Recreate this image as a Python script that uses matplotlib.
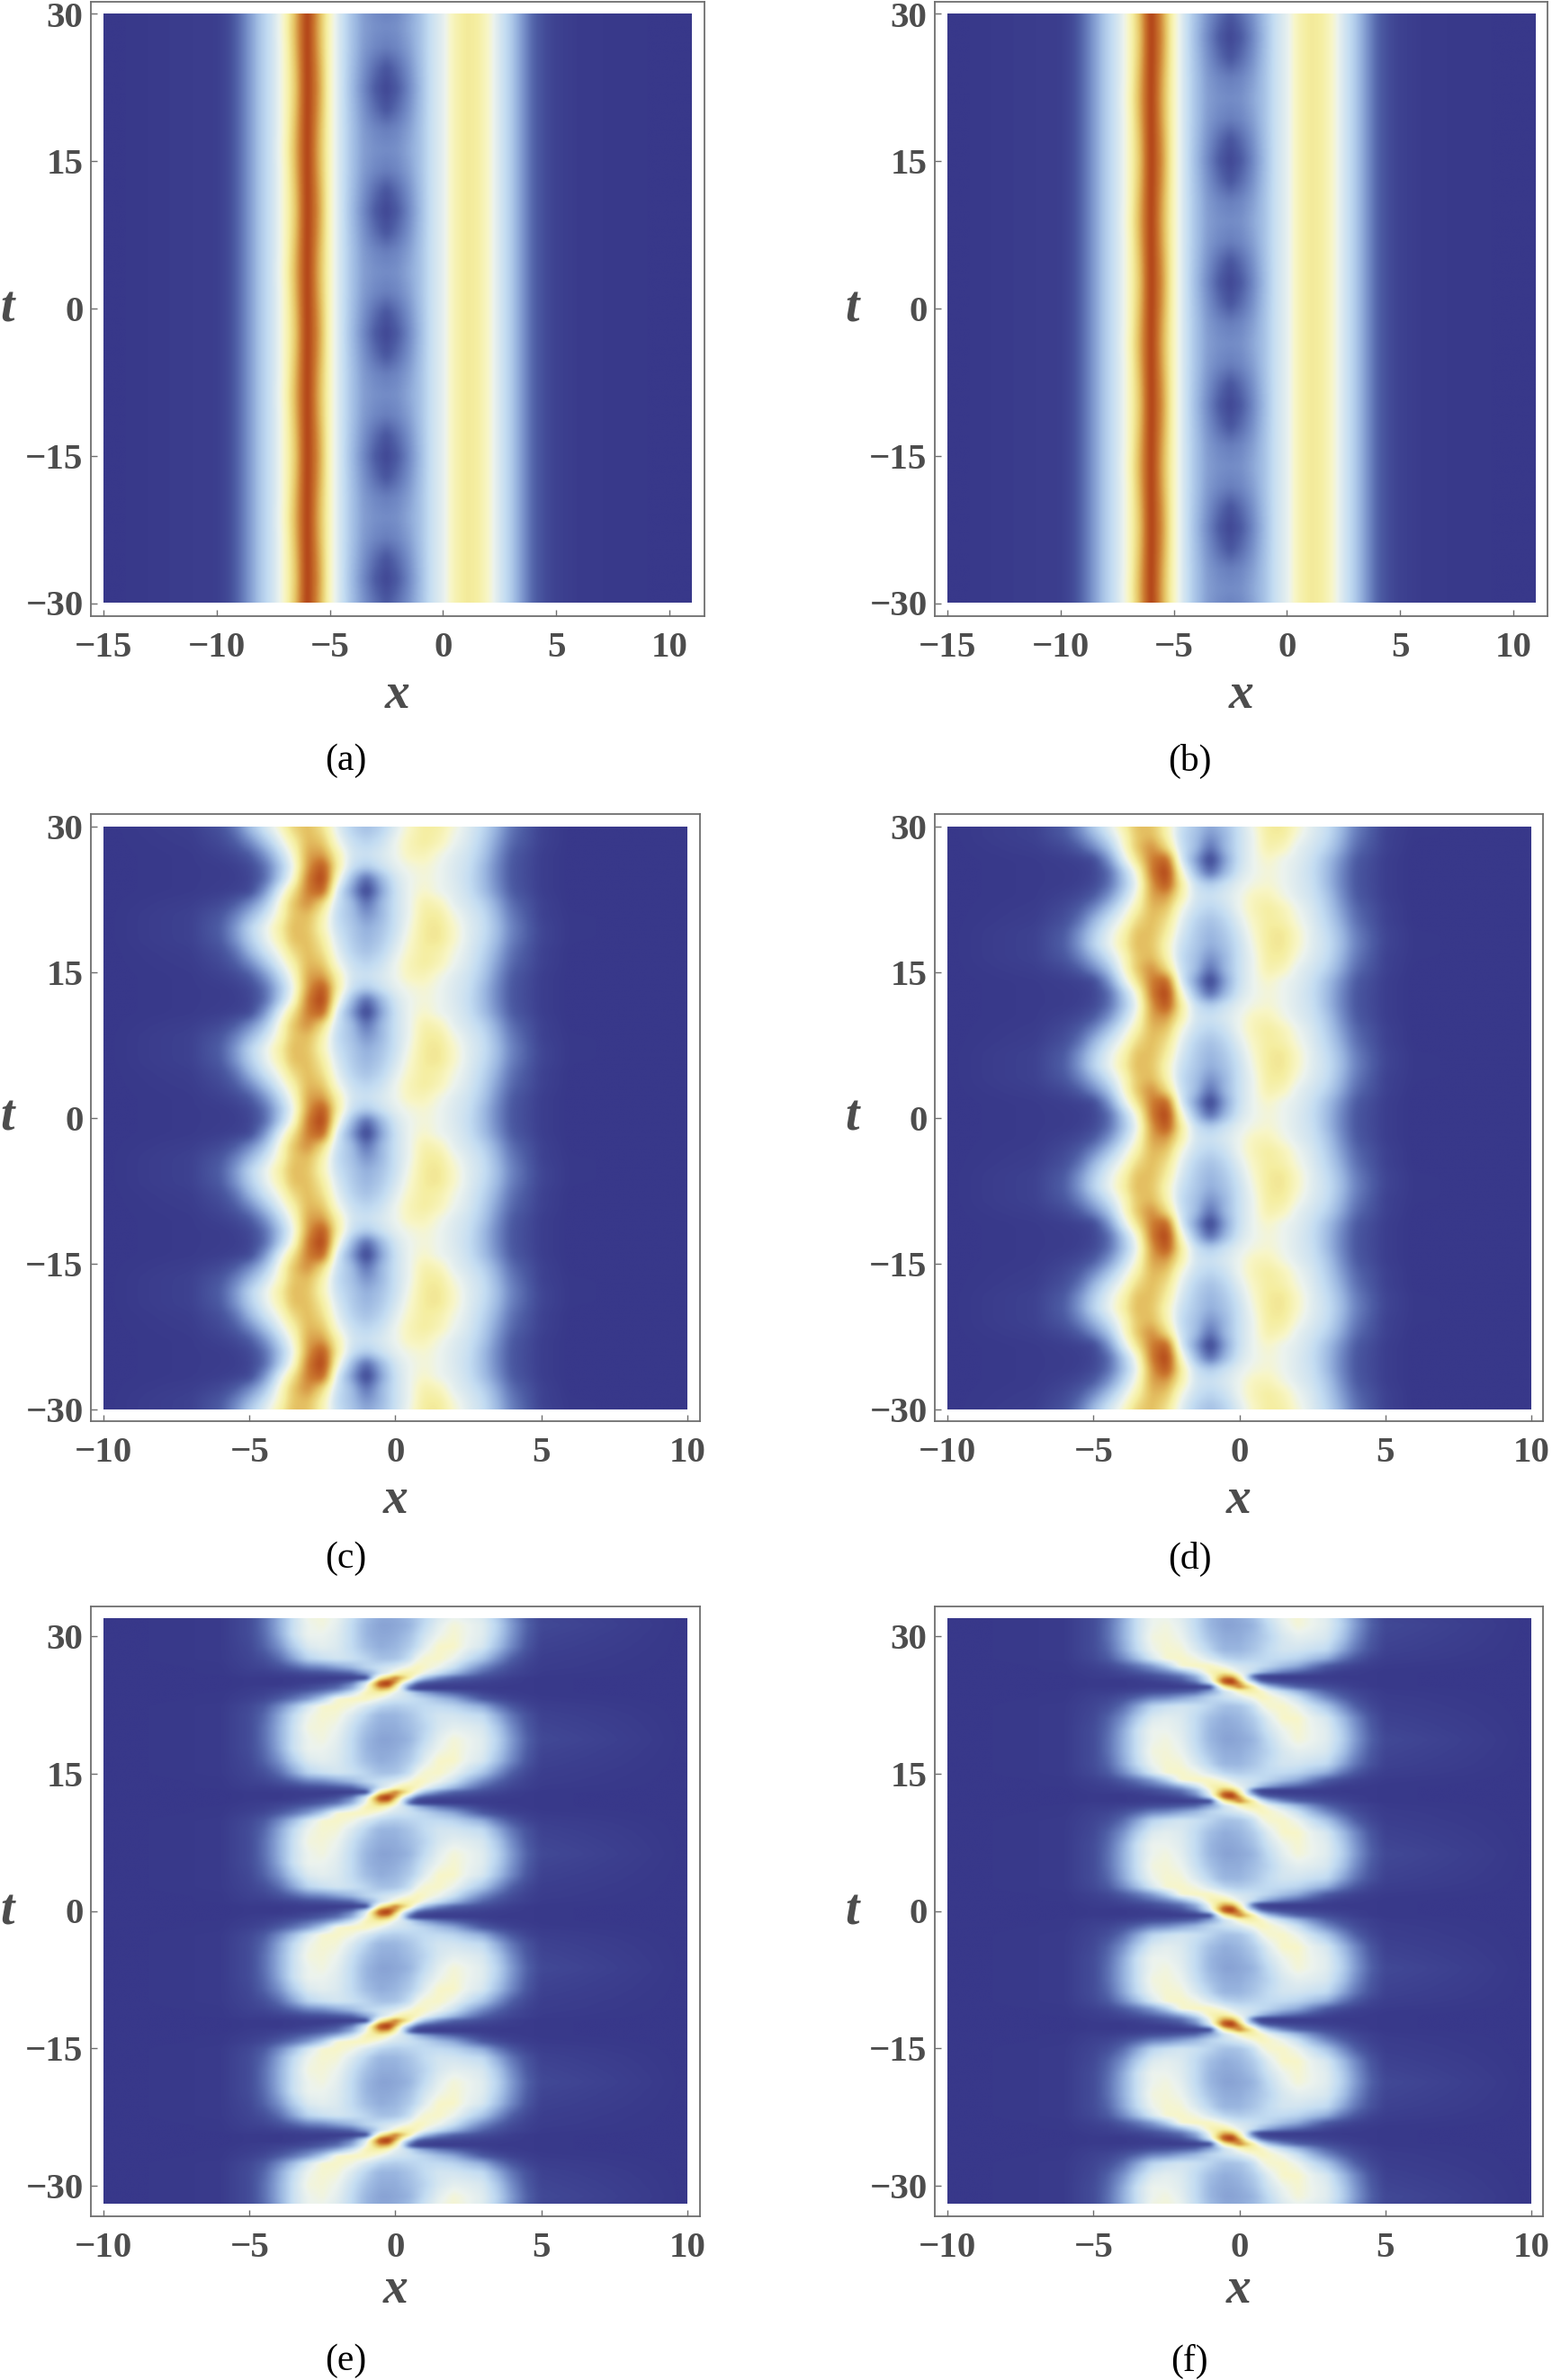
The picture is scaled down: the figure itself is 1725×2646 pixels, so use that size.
import numpy as np
import matplotlib
matplotlib.use("Agg")
import matplotlib.pyplot as plt
from matplotlib.colors import LinearSegmentedColormap

W, H = 1725, 2646
plt.rcParams['font.family'] = ['Liberation Serif', 'DejaVu Serif']

# ---- colour scale ----
cmap_stops = [0, .1, .2, .3, .4, .5, .55, .62, .72, .85, 1]
cmap_colors = ['#38388a', '#4c5ba3', '#7088c4', '#9ab6e0', '#c3dcf2', '#ecf3ee',
               '#f8f6c8', '#f5eea0', '#e6c566', '#cc7a30', '#ae3a14']

# ---- field A (panels a, b): one period ----
A_x = [-15, -10, -9.5, -9, -8.5, -8, -7.5, -7, -6.5, -6, -5.5, -5, -4.5, -4, -3.5, -3, -2.5, -2, -1.5,
       -1, -.5, 0, .5, 1, 1.5, 2, 2.5, 3, 3.5, 4, 4.5, 5, 6, 11]
A_t = [0, -2.08, -4.17, -6.25, -8.33, -10.42]
A_t0 = -2.6
A_period = 12.5
A_values = [
 [0, .02, .05, .14, .25, .36, .44, .55, .72, 1.0, .8, .56, .43, .31, .2, .1, .04, .1, .2, .31, .42, .48, .58, .63, .62, .55, .45, .36, .24, .12, .06, .03, .01, 0],
 [0, .02, .05, .14, .25, .36, .44, .55, .73, 1.0, .79, .56, .43, .32, .22, .14, .08, .14, .22, .32, .42, .48, .58, .63, .62, .55, .45, .36, .24, .12, .06, .03, .01, 0],
 [0, .02, .05, .14, .25, .36, .44, .55, .75, 1.0, .77, .56, .43, .33, .24, .2, .18, .2, .25, .33, .42, .48, .58, .63, .62, .55, .45, .36, .24, .12, .06, .03, .01, 0],
 [0, .02, .05, .14, .25, .36, .44, .56, .76, 1.0, .76, .56, .43, .33, .25, .22, .21, .22, .27, .33, .42, .48, .58, .63, .62, .55, .45, .36, .24, .12, .06, .03, .01, 0],
 [0, .02, .05, .14, .25, .36, .44, .55, .75, 1.0, .77, .56, .43, .33, .24, .2, .18, .2, .25, .33, .42, .48, .58, .63, .62, .55, .45, .36, .24, .12, .06, .03, .01, 0],
 [0, .02, .05, .14, .25, .36, .44, .55, .73, 1.0, .79, .56, .43, .32, .22, .14, .08, .14, .22, .32, .42, .48, .58, .63, .62, .55, .45, .36, .24, .12, .06, .03, .01, 0],
]

# ---- field C (panels c, d) ----
C_x = [-10, -7, -6, -5.5, -5, -4.5, -4, -3.5, -3, -2.5, -2, -1.5, -1, -.5, 0, .5, 1, 1.5, 2, 2.5, 3, 3.5, 4, 5, 6, 10]
C_t = [0, -1.25, -2.5, -3.75, -5, -6.25, -7.5, -8.75, -10, -11.25]
C_t0 = -1.6
C_period = 12.5
C_values = [
 [0, .01, .02, .03, .05, .22, .45, .65, .85, .92, .45, .25, .02, .25, .42, .5, .55, .5, .47, .42, .33, .22, .1, .02, 0, 0],
 [0, .02, .05, .1, .2, .33, .52, .72, .82, .68, .42, .32, .14, .3, .42, .5, .6, .57, .48, .44, .38, .27, .14, .03, 0, 0],
 [0, .03, .09, .18, .3, .42, .55, .72, .74, .6, .4, .33, .22, .3, .42, .5, .62, .62, .52, .46, .41, .3, .17, .03, .005, 0],
 [0, .03, .11, .23, .38, .48, .6, .74, .72, .58, .42, .35, .28, .33, .42, .52, .63, .64, .55, .47, .42, .32, .19, .04, .005, 0],
 [0, .03, .1, .22, .36, .47, .58, .73, .73, .62, .45, .36, .3, .35, .44, .54, .63, .64, .55, .47, .41, .31, .18, .04, .005, 0],
 [0, .02, .07, .15, .3, .42, .52, .67, .74, .66, .48, .38, .33, .38, .47, .56, .62, .6, .52, .46, .39, .28, .15, .03, 0, 0],
 [0, .015, .05, .1, .2, .33, .46, .6, .75, .72, .52, .42, .38, .42, .5, .58, .62, .58, .5, .45, .37, .25, .13, .03, 0, 0],
 [0, .01, .03, .05, .1, .22, .38, .54, .78, .8, .6, .44, .42, .45, .5, .57, .58, .52, .47, .43, .35, .22, .1, .02, 0, 0],
 [0, .01, .015, .025, .05, .14, .32, .5, .8, .95, .62, .42, .36, .42, .48, .52, .54, .5, .46, .42, .32, .2, .09, .02, 0, 0],
 [0, .01, .015, .02, .04, .13, .34, .54, .85, 1.0, .55, .32, .12, .3, .44, .5, .53, .5, .46, .41, .32, .2, .09, .02, 0, 0],
]

# ---- field E (panels e, f) ----
E_x = [-10, -6, -5, -4.5, -4, -3.5, -3, -2.5, -2, -1.5, -1, -.75, -.5, -.25, 0, .25, .5, .75, 1, 1.5, 2, 2.5, 3, 3.5, 4, 4.5, 5, 10]
E_t = [6.25, 5.25, 3.93, 2.62, 1.64, .98, .49, 0, -.26, -.66, -1.15, -1.8, -2.62, -3.6, -4.92]
E_t0 = 0.0
E_period = 12.5
E_values = [
 [0, .01, .06, .15, .28, .42, .5, .52, .48, .4, .3, .28, .26, .26, .27, .28, .3, .35, .4, .48, .53, .5, .47, .38, .24, .12, .05, 0],
 [0, .01, .06, .14, .27, .42, .5, .5, .47, .4, .3, .28, .27, .27, .28, .3, .33, .38, .43, .5, .54, .5, .47, .37, .23, .11, .04, 0],
 [0, .01, .05, .12, .22, .36, .46, .48, .46, .4, .32, .3, .28, .29, .3, .33, .36, .41, .47, .55, .55, .49, .45, .33, .2, .09, .03, 0],
 [0, .01, .04, .07, .14, .26, .38, .42, .44, .42, .38, .35, .33, .33, .34, .37, .42, .5, .54, .55, .5, .42, .34, .22, .11, .05, .02, 0],
 [0, .005, .03, .04, .07, .12, .18, .2, .25, .3, .38, .4, .42, .44, .46, .5, .53, .57, .55, .5, .42, .3, .2, .12, .06, .03, .015, 0],
 [0, .005, .02, .02, .03, .04, .06, .07, .09, .12, .25, .33, .44, .48, .56, .6, .6, .56, .5, .4, .3, .2, .12, .07, .04, .025, .01, 0],
 [0, 0, .01, .01, .01, .015, .02, .015, .015, .02, .05, .42, .62, .72, .85, .72, .6, .45, .33, .2, .12, .09, .06, .04, .02, .01, .005, 0],
 [0, 0, .01, .01, .01, .015, .02, .03, .06, .15, .42, .65, .92, 1.0, .8, .55, .4, .2, .12, .07, .05, .04, .03, .02, .015, .01, .005, 0],
 [0, 0, .01, .01, .01, .02, .04, .06, .1, .22, .48, .7, .95, .98, .68, .45, .25, .08, .05, .03, .03, .025, .02, .015, .01, .01, .005, 0],
 [0, 0, .015, .02, .03, .04, .06, .1, .15, .28, .52, .66, .78, .75, .58, .42, .12, .03, .02, .015, .015, .015, .015, .01, .01, .01, .005, 0],
 [0, .005, .02, .03, .05, .09, .14, .2, .3, .43, .58, .6, .6, .55, .48, .45, .4, .32, .26, .18, .13, .08, .04, .02, .015, .01, .005, 0],
 [0, .005, .03, .05, .1, .16, .24, .36, .54, .56, .56, .53, .5, .46, .44, .43, .42, .4, .38, .32, .27, .18, .1, .06, .03, .02, .01, 0],
 [0, .01, .05, .1, .2, .32, .45, .54, .55, .52, .45, .42, .38, .37, .36, .37, .38, .39, .4, .4, .38, .33, .28, .17, .09, .04, .02, 0],
 [0, .01, .06, .13, .26, .4, .5, .54, .53, .46, .38, .33, .3, .3, .3, .32, .34, .37, .4, .44, .44, .42, .4, .28, .16, .08, .03, 0],
 [0, .01, .06, .15, .28, .42, .52, .53, .5, .42, .33, .3, .28, .28, .28, .3, .32, .35, .38, .45, .48, .47, .45, .35, .21, .1, .04, 0],
]

# ---- axes ----
A_xticks = [-15, -10, -5, 0, 5, 10]
C_xticks = [-10, -5, 0, 5, 10]
T_ticks = [-30, -15, 0, 15, 30]
panel_labels = ['(a)', '(b)', '(c)', '(d)', '(e)', '(f)']


def gauss_blur(z, sigma, axis):
    r = int(4 * sigma) + 1
    k = np.exp(-0.5 * (np.arange(-r, r + 1) / sigma) ** 2)
    k /= k.sum()
    pad = [(0, 0), (0, 0)]
    pad[axis] = (r, r)
    p = np.pad(z, pad, mode='edge')
    return np.apply_along_axis(lambda v: np.convolve(v, k, mode='valid'), axis, p)


def sample(xn, tn, vals, t0, period, xlim, tlim, flip, sx, st):
    xf = np.linspace(xlim[0], xlim[1], 700)
    tf = np.linspace(tlim[0], tlim[1], 1000)
    v = np.asarray(vals, float)
    xn = np.asarray(xn, float)
    tn = np.asarray(tn, float)
    tq = -tf if flip else tf
    phase = tq - t0
    cols = np.array([np.interp(phase, tn, v[:, j], period=period) for j in range(len(xn))]).T
    z = np.array([np.interp(xf, xn, row) for row in cols])
    z = gauss_blur(z, sx / (xf[1] - xf[0]), 1)
    z = gauss_blur(z, st / (tf[1] - tf[0]), 0)
    return z


fig = plt.figure(figsize=(W / 100, H / 100), dpi=100, facecolor='white')
cmap = LinearSegmentedColormap.from_list('thermo', list(zip(cmap_stops, cmap_colors)))

panels = [
    (A_x, A_t, A_values, A_t0, A_period, (-15, 11), (-30, 30), False, A_xticks, (115, 769, 15.5, 670.5), (101, 783, 2, 685), .10, .3, 88),
    (A_x, A_t, A_values, A_t0, A_period, (-15, 11), (-30, 30), True, A_xticks, (1053, 1707, 15.5, 670.5), (1039, 1720, 2, 685), .10, .3, 88),
    (C_x, C_t, C_values, C_t0, C_period, (-10, 10), (-30, 30), False, C_xticks, (115, 764, 919, 1567), (101, 778, 905, 1580), .13, .3, 88),
    (C_x, C_t, C_values, C_t0, C_period, (-10, 10), (-30, 30), True, C_xticks, (1053, 1702, 919, 1567), (1039, 1715, 905, 1580), .13, .3, 88),
    (E_x, E_t, E_values, E_t0, E_period, (-10, 10), (-32, 32), False, C_xticks, (115, 764, 1799, 2450), (101, 778, 1786, 2464), .07, .1, 82),
    (E_x, E_t, E_values, E_t0, E_period, (-10, 10), (-32, 32), True, C_xticks, (1053, 1702, 1799, 2450), (1039, 1715, 1786, 2464), .07, .1, 82),
]
label_xy = [(384, 846), (1322, 846), (384, 1733), (1322, 1733), (384, 2625), (1322, 2625)]
t_label_x = [8, 947, 8, 947, 8, 947]
ink = '#4d4d4d'

for p, lab, lxy, tx in zip(panels, panel_labels, label_xy, t_label_x):
    xn, tn, vals, t0, per, xr, tr, flip, xticks, img, frm, sx, st, xlab_off = p
    il, ir, it, ib = img
    fl, fr, ft, fb = frm
    ax = fig.add_axes([fl / W, 1 - fb / H, (fr - fl) / W, (fb - ft) / H])
    kx = (xr[1] - xr[0]) / (ir - il)
    kt = (tr[1] - tr[0]) / (ib - it)
    ax.set_xlim(xr[0] - (il - fl) * kx, xr[1] + (fr - ir) * kx)
    ax.set_ylim(tr[0] - (fb - ib) * kt, tr[1] + (it - ft) * kt)
    z = sample(xn, tn, vals, t0, per, xr, tr, flip, sx, st)
    ax.imshow(z, origin='lower', extent=[xr[0], xr[1], tr[0], tr[1]], cmap=cmap, vmin=0, vmax=1,
              aspect='auto', interpolation='bilinear', zorder=1)
    for s in ax.spines.values():
        s.set_color('#6e6e6e')
        s.set_linewidth(1.3)
    ax.set_xticks(xticks)
    ax.set_yticks(T_ticks)
    ax.set_xticklabels([str(v).replace('-', '\u2212') for v in xticks])
    ax.set_yticklabels([str(v).replace('-', '\u2212') for v in T_ticks])
    ax.tick_params(axis='x', direction='in', length=5, width=1, color='#6e6e6e', pad=12,
                   labelsize=29.5, labelcolor=ink)
    ax.tick_params(axis='y', direction='in', length=5, width=1, color='#6e6e6e', pad=6,
                   labelsize=29.5, labelcolor=ink)
    for t in ax.get_xticklabels() + ax.get_yticklabels():
        t.set_fontweight('bold')
    ax.set_xlabel('x', fontsize=40, fontweight='bold', fontstyle='italic', color=ink, va='center')
    ax.set_ylabel('t', fontsize=40, fontweight='bold', fontstyle='italic', color=ink, rotation=0,
                  va='center', ha='center')
    ax.xaxis.set_label_coords(0.5, -xlab_off / (fb - ft))
    ax.yaxis.set_label_coords((tx - fl) / (fr - fl), 0.5)
    fig.text(lxy[0] / W, 1 - lxy[1] / H, lab, fontsize=30, color='black', ha='center', va='center')

fig.savefig('out.png', dpi=100, facecolor='white')
